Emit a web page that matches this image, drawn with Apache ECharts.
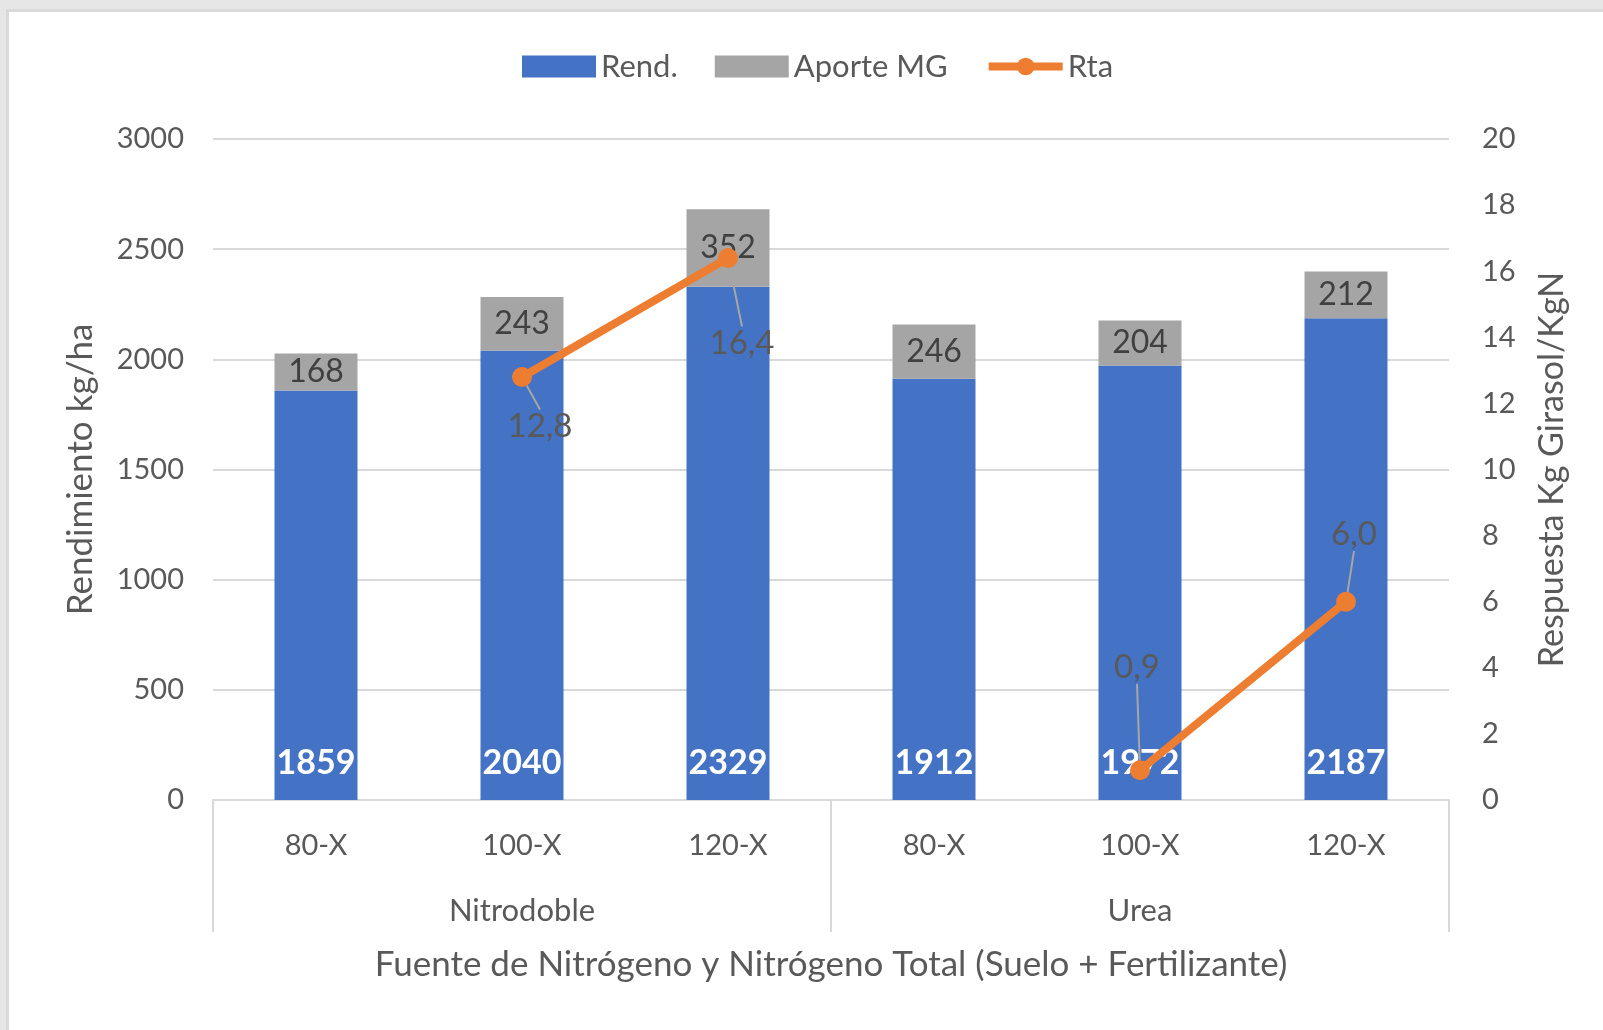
<!DOCTYPE html>
<html>
<head>
<meta charset="utf-8">
<script src="https://cdn.jsdelivr.net/npm/echarts@6/dist/echarts.min.js"></script>
<style>
  html, body { margin: 0; padding: 0; background: #e6e6e6; }
  #frame { position: absolute; left: 6px; top: 9px; right: 0; bottom: 0; background: #d9d9d9; }
  #chart { position: absolute; left: 9px; top: 12px; width: 1594px; height: 1018px; background: #ffffff; }
</style>
</head>
<body>
<div id="frame"></div>
<div id="chart"></div>
<script>
const categories = ['80-X', '100-X', '120-X', '80-X', '100-X', '120-X'];
const groups = ['Nitrodoble', 'Urea'];
const rend = [1859, 2040, 2329, 1912, 1972, 2187];
const aporteMG = [168, 243, 352, 246, 204, 212];
const rta = [null, 12.8, 16.4, null, 0.9, 6.0];
const leftTicks = { min: 0, max: 3000, interval: 500 };
const rightTicks = { min: 0, max: 20, interval: 2 };

const FONT = 'Lato';
const TXT = '#595959';
const OX = 9, OY = 12; // chart div offset in page
const chart = echarts.init(document.getElementById('chart'));

const rtaLabelOffsets = { 1: [18, 49], 2: [14, 85], 4: [-3, -103], 5: [8, -67] };

chart.setOption({
  animation: false,
  textStyle: { fontFamily: FONT },
  legend: {
    left: 517 - OX, top: 65 - OY - 19,
    itemWidth: 74, itemHeight: 22, itemGap: 37,
    textStyle: { fontFamily: FONT, fontSize: 31, color: TXT },
    data: [
      { name: 'Rend.', icon: 'rect' },
      { name: 'Aporte MG', icon: 'rect' },
      { name: 'Rta', lineStyle: { width: 8 } }
    ]
  },
  grid: { left: 213 - OX, top: 139 - OY, width: 1449 - 213, height: 800 - 139 },
  xAxis: [
    {
      type: 'category', data: categories, position: 'bottom',
      axisLine: { show: true, lineStyle: { color: '#d9d9d9', width: 2 } },
      axisTick: { show: false },
      axisLabel: { fontFamily: FONT, fontSize: 29, color: TXT, margin: 31, interval: 0 },
      splitLine: { show: false }
    },
    {
      type: 'category', data: groups, position: 'bottom',
      axisLine: { show: false },
      axisTick: { show: true, length: 132, lineStyle: { color: '#d9d9d9', width: 2 } },
      axisLabel: { fontFamily: FONT, fontSize: 31, color: TXT, margin: 95 },
      name: 'Fuente de Nitrógeno y Nitrógeno Total (Suelo + Fertilizante)',
      nameLocation: 'middle', nameGap: 147,
      nameTextStyle: { fontFamily: FONT, fontSize: 35, color: TXT }
    }
  ],
  yAxis: [
    {
      type: 'value', min: leftTicks.min, max: leftTicks.max, interval: leftTicks.interval,
      axisLine: { show: false }, axisTick: { show: false },
      axisLabel: { fontFamily: FONT, fontSize: 29, color: TXT, margin: 29, formatter: v => String(v) },
      splitLine: { lineStyle: { color: '#d9d9d9', width: 2 } },
      name: 'Rendimiento kg/ha', nameLocation: 'middle', nameGap: 115,
      nameTextStyle: { fontFamily: FONT, fontSize: 35, color: TXT }
    },
    {
      type: 'value', min: rightTicks.min, max: rightTicks.max, interval: rightTicks.interval,
      position: 'right',
      axisLine: { show: false }, axisTick: { show: false },
      axisLabel: { fontFamily: FONT, fontSize: 29, color: TXT, margin: 33 },
      splitLine: { show: false },
      name: 'Respuesta Kg Girasol/KgN', nameLocation: 'middle', nameGap: 86, nameRotate: 90,
      nameTextStyle: { fontFamily: FONT, fontSize: 34, color: TXT }
    }
  ],
  series: [
    {
      name: 'Rend.', type: 'bar', stack: 'total', data: rend, barWidth: 83,
      itemStyle: { color: '#4472C4' },
      label: { show: true, position: 'insideBottom', distance: 20, color: '#ffffff',
               fontFamily: FONT, fontWeight: 'bold', fontSize: 34 }
    },
    {
      name: 'Aporte MG', type: 'bar', stack: 'total', data: aporteMG, barWidth: 83,
      itemStyle: { color: '#A5A5A5' },
      label: { show: true, position: 'inside', color: '#404040', fontFamily: FONT, fontSize: 32 }
    },
    {
      name: 'Rta', type: 'line', yAxisIndex: 1, data: rta, connectNulls: false,
      symbol: 'circle', symbolSize: 20,
      lineStyle: { color: '#ED7D31', width: 8 },
      itemStyle: { color: '#ED7D31' },
      label: {
        show: true, position: 'inside', color: TXT, fontFamily: FONT, fontSize: 33,
        formatter: p => p.value == null ? '' : p.value.toFixed(1).replace('.', ',')
      },
      labelLine: { show: true, lineStyle: { color: '#a6a6a6', width: 2 } },
      labelLayout: function (p) {
        const o = rtaLabelOffsets[p.dataIndex] || [0, 0];
        return { dx: o[0], dy: o[1] };
      },
      z: 5
    }
  ]
});
</script>
</body>
</html>
